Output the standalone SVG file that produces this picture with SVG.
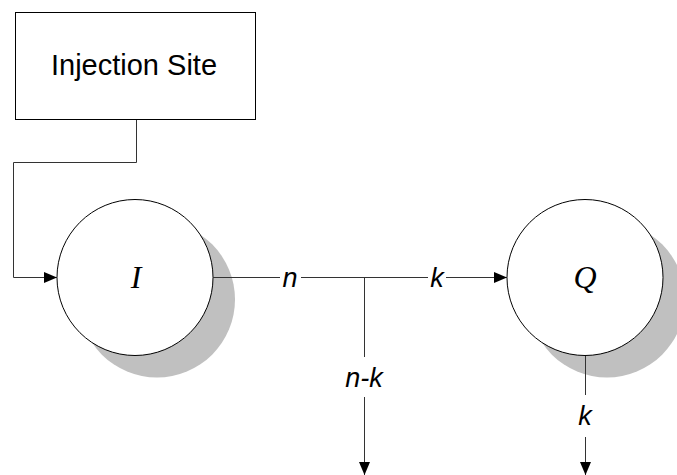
<svg xmlns="http://www.w3.org/2000/svg" width="677" height="475" viewBox="0 0 677 475">
  <defs>
    <marker id="arrow" viewBox="0 0 13 11" refX="13" refY="5.5" markerWidth="13" markerHeight="11" markerUnits="userSpaceOnUse" orient="auto">
      <path d="M0,0 L13,5.5 L0,11 Z" fill="#000"/>
    </marker>
  </defs>
  <style>
    .box { fill: #fff; stroke: #000; stroke-width: 1; }
    .shadow { fill: #c0c0c0; stroke: none; }
    .node { fill: #fff; stroke: #000; stroke-width: 1; }
    .wire { fill: none; stroke: #333; stroke-width: 1; }
    .lbl { font-family: "Liberation Sans", Arial, sans-serif; font-size: 29px; fill: #000; text-anchor: middle; }
    .var { font-family: "Liberation Serif", "Times New Roman", serif; font-size: 32px; font-style: italic; fill: #000; text-anchor: middle; }
    .flow { font-family: "Liberation Sans", Arial, sans-serif; font-size: 27px; font-style: italic; fill: #000; text-anchor: middle; }
  </style>

  <rect width="677" height="475" fill="#fff"/>

  <g id="injection-site">
    <rect class="box" x="15.5" y="12.5" width="240" height="107"/>
    <text class="lbl" x="134" y="75">Injection Site</text>
  </g>

  <g id="compartment-I">
    <circle class="shadow" cx="157" cy="299.5" r="78"/>
    <circle class="node" cx="135" cy="277.5" r="78"/>
    <text class="var" x="136" y="288">I</text>
  </g>

  <g id="compartment-Q">
    <circle class="shadow" cx="607" cy="299.5" r="78"/>
    <circle class="node" cx="585" cy="277.5" r="78"/>
    <text class="var" x="585" y="288">Q</text>
  </g>

  <g id="connectors">
    <!-- dose from the injection site into I -->
    <polyline class="wire" points="136.5,120 136.5,162.5 13.5,162.5 13.5,277.5 57,277.5" marker-end="url(#arrow)"/>
    <!-- outflow n from I, split at the junction -->
    <line class="wire" x1="213" y1="277.5" x2="280" y2="277.5"/>
    <line class="wire" x1="301" y1="277.5" x2="428" y2="277.5"/>
    <line class="wire" x1="446" y1="277.5" x2="507" y2="277.5" marker-end="url(#arrow)"/>
    <!-- loss n-k -->
    <line class="wire" x1="364.5" y1="277.5" x2="364.5" y2="357"/>
    <line class="wire" x1="364.5" y1="397" x2="364.5" y2="475" marker-end="url(#arrow)"/>
    <!-- elimination k from Q -->
    <line class="wire" x1="585.5" y1="356" x2="585.5" y2="395"/>
    <line class="wire" x1="585.5" y1="437" x2="585.5" y2="475" marker-end="url(#arrow)"/>
    <text class="flow" x="290" y="287">n</text>
    <text class="flow" x="437" y="287">k</text>
    <text class="flow" x="364" y="387">n-k</text>
    <text class="flow" x="585" y="425">k</text>
  </g>
</svg>
